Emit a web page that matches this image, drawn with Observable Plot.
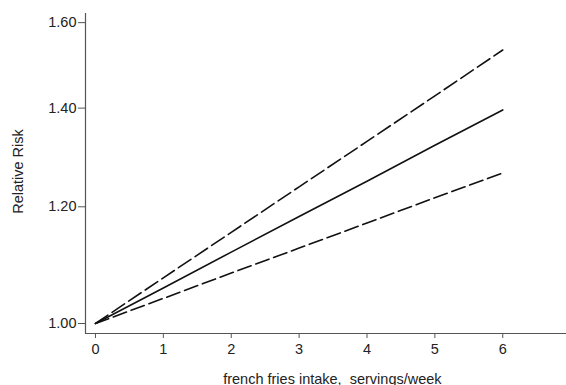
<!DOCTYPE html>
<html>
<head>
<meta charset="utf-8">
<script src="https://cdn.jsdelivr.net/npm/d3@7"></script>
<script src="https://cdn.jsdelivr.net/npm/@observablehq/plot@0.6"></script>
<style>
  html, body { margin: 0; padding: 0; background: #fff; overflow: hidden; width: 566px; height: 385px; }
  #chart svg { white-space: pre; }
</style>
</head>
<body>
<div id="chart"></div>
<script>
const servings = [0, 1, 2, 3, 4, 5, 6];
const rrEstimate = [1.000, 1.057, 1.118, 1.182, 1.249, 1.321, 1.396];
const rrUpper    = [1.000, 1.074, 1.153, 1.238, 1.329, 1.427, 1.533];
const rrLower    = [1.000, 1.040, 1.082, 1.125, 1.170, 1.217, 1.265];
const xTicks = [0, 1, 2, 3, 4, 5, 6, 7];
const yTicks = [1.0, 1.2, 1.4, 1.6];

const est = servings.map((x, i) => ({x, y: rrEstimate[i]}));
const up = servings.map((x, i) => ({x, y: rrUpper[i]}));
const lo = servings.map((x, i) => ({x, y: rrLower[i]}));

const W = 600, H = 385;
const chart = Plot.plot({
  width: W,
  height: H,
  marginLeft: 85,
  marginRight: W - 590.5,
  marginTop: 13,
  marginBottom: H - 333,
  style: {fontFamily: "'Liberation Sans', Arial, sans-serif", fontSize: "14.5px", color: "#222", maxWidth: "none", overflow: "visible", background: "#fff"},
  x: {domain: [-0.147, 7.3], ticks: xTicks, tickFormat: d => String(d), tickSize: 5, tickPadding: 5, label: null},
  y: {type: "log", domain: [0.9845, 1.623], ticks: yTicks, tickFormat: d => d.toFixed(2), tickSize: 7, tickPadding: 2, label: null},
  marks: [
    Plot.axisX({ticks: xTicks, tickFormat: d => String(d), tickSize: 5, tickPadding: 5, stroke: "#555", label: null, fontSize: 14.5}),
    Plot.axisY({ticks: yTicks, tickFormat: d => d.toFixed(2), tickSize: 7, tickPadding: 2, stroke: "#555", label: null, fontSize: 14.5}),
    Plot.ruleY([0.9845], {stroke: "#555", strokeWidth: 1.2}),
    Plot.ruleX([-0.147], {stroke: "#555", strokeWidth: 1.2}),
    Plot.line(up, {x: "x", y: "y", stroke: "#111", strokeWidth: 1.6, strokeDasharray: "15,5"}),
    Plot.line(lo, {x: "x", y: "y", stroke: "#111", strokeWidth: 1.6, strokeDasharray: "14,5"}),
    Plot.line(est, {x: "x", y: "y", stroke: "#111", strokeWidth: 1.6}),
    Plot.text(["french fries intake,  servings/week"], {frameAnchor: "bottom", x: 3.49, dy: 50, fontSize: 14.5, fill: "#222"}),
    Plot.text(["Relative Risk"], {frameAnchor: "left", y: 1.268, dx: -67, rotate: -90, textAnchor: "middle", fontSize: 14.5, fill: "#222"})
  ]
});
document.getElementById("chart").append(chart);
</script>
</body>
</html>
